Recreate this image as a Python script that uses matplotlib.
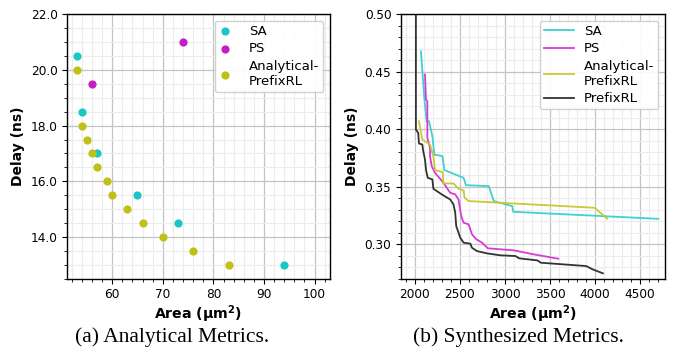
import matplotlib
matplotlib.use("Agg")
import matplotlib.pyplot as plt
from matplotlib.ticker import MultipleLocator, FormatStrFormatter

# (a) analytical metrics: area, delay
sa_area = [53, 54, 57, 65, 73, 94]
sa_delay = [20.5, 18.5, 17.0, 15.5, 14.5, 13.0]
ps_area = [74, 56]
ps_delay = [21.0, 19.5]
arl_area = [53, 54, 55, 56, 57, 59, 60, 63, 66, 70, 76, 83]
arl_delay = [20.0, 18.0, 17.5, 17.0, 16.5, 16.0, 15.5, 15.0, 14.5, 14.0, 13.5, 13.0]

# (b) synthesized pareto fronts
syn_sa_area = [2067, 2104, 2131, 2157, 2194, 2216, 2306, 2328, 2541, 2567,
               2821, 2877, 3082, 3093, 4705]
syn_sa_delay = [0.4676, 0.4272, 0.4069, 0.4069, 0.3939, 0.3780, 0.3766, 0.3645,
                0.3578, 0.3514, 0.3506, 0.3376, 0.3332, 0.3283, 0.3222]
syn_ps_area = [2112, 2123, 2138, 2138, 2168, 2168, 2187, 2224, 2317, 2392, 2448,
               2485, 2496, 2515, 2541, 2597, 2634, 2683, 2746, 2810, 3101, 3325, 3593]
syn_ps_delay = [0.4474, 0.4257, 0.4243, 0.3925, 0.3838, 0.3766, 0.3679, 0.3621,
                0.3535, 0.3448, 0.3434, 0.3390, 0.3332, 0.3246, 0.3188, 0.3174,
                0.3087, 0.3044, 0.3015, 0.2966, 0.2948, 0.2913, 0.2876]
syn_arl_area = [2045, 2082, 2168, 2205, 2224, 2310, 2317, 2429, 2485, 2541, 2552,
                2597, 3996, 4138]
syn_arl_delay = [0.4069, 0.3911, 0.3867, 0.3766, 0.3645, 0.3627, 0.3529, 0.3529,
                 0.3483, 0.3468, 0.3405, 0.3376, 0.3318, 0.3223]
syn_prl_area = [2011, 2011, 2037, 2045, 2082, 2093, 2112, 2123, 2142, 2194, 2205,
                2298, 2392, 2429, 2448, 2459, 2504, 2541, 2616, 2634, 2690, 2802,
                2951, 3119, 3157, 3362, 3399, 3903, 3977, 4089]
syn_prl_delay = [0.52, 0.3997, 0.3968, 0.3876, 0.3867, 0.3809, 0.3737, 0.3650,
                 0.3578, 0.3564, 0.3483, 0.3434, 0.3390, 0.3347, 0.3275, 0.3159,
                 0.3058, 0.3015, 0.3006, 0.2971, 0.2942, 0.2922, 0.2905, 0.2899,
                 0.2879, 0.2861, 0.2841, 0.2812, 0.2783, 0.2749]

C_SA = "#1cc6c6"
C_PS = "#c81cc8"
C_ARL = "#c0c015"

fig = plt.figure(figsize=(6.8, 3.5), dpi=100)
ax1 = fig.add_axes([0.098, 0.203, 0.387, 0.757])
ax2 = fig.add_axes([0.589, 0.203, 0.389, 0.757])


def style(ax):
    ax.minorticks_on()
    ax.grid(which="major", color="#c4c4c4", linewidth=0.9)
    ax.grid(which="minor", color="#ececec", linewidth=0.8)
    ax.set_axisbelow(True)
    ax.tick_params(labelsize=8.7, length=3.5, width=0.8, pad=3)
    ax.tick_params(which="minor", length=2, width=0.6)
    for s in ax.spines.values():
        s.set_linewidth(1.0)
    ax.set_xlabel("Area (\u00b5m$^\\mathbf{2}$)", fontsize=10.2, fontweight="bold", labelpad=2)
    ax.set_ylabel("Delay (ns)", fontsize=10.0, fontweight="bold", labelpad=4)


ax1.scatter(sa_area, sa_delay, s=24, color=C_SA, label="SA", zorder=3)
ax1.scatter(ps_area, ps_delay, s=24, color=C_PS, label="PS", zorder=3)
ax1.scatter(arl_area, arl_delay, s=24, color=C_ARL, label="Analytical-\nPrefixRL", zorder=3)
ax1.set_xlim(51, 103)
ax1.set_ylim(12.5, 22)
ax1.xaxis.set_major_locator(MultipleLocator(10))
ax1.yaxis.set_major_locator(MultipleLocator(2))
ax1.yaxis.set_major_formatter(FormatStrFormatter("%.1f"))
style(ax1)
ax1.legend(loc="upper right", fontsize=9.5, framealpha=0.9, borderpad=0.3,
           handlelength=1.0, handletextpad=1.3, labelspacing=0.35, borderaxespad=0.5)

ax2.plot(syn_sa_area, syn_sa_delay, color="#3fd0d0", lw=1.3, label="SA")
ax2.plot(syn_ps_area, syn_ps_delay, color="#d83ad8", lw=1.3, label="PS")
ax2.plot(syn_arl_area, syn_arl_delay, color="#c9c935", lw=1.3, label="Analytical-\nPrefixRL")
ax2.plot(syn_prl_area, syn_prl_delay, color="#333333", lw=1.3, label="PrefixRL")
ax2.set_xlim(1840, 4780)
ax2.set_ylim(0.27, 0.50)
ax2.xaxis.set_major_locator(MultipleLocator(500))
ax2.yaxis.set_major_locator(MultipleLocator(0.05))
ax2.yaxis.set_major_formatter(FormatStrFormatter("%.2f"))
style(ax2)
ax2.legend(loc="upper right", fontsize=9.5, framealpha=0.9, borderpad=0.3,
           handlelength=2.3, handletextpad=0.75, labelspacing=0.35, borderaxespad=0.5)

fig.text(0.253, 0.036, "(a) Analytical Metrics.", ha="center", va="center",
         family="Liberation Serif", fontsize=15.5)
fig.text(0.763, 0.036, "(b) Synthesized Metrics.", ha="center", va="center",
         family="Liberation Serif", fontsize=15.5)

fig.savefig("out.png", dpi=100)
